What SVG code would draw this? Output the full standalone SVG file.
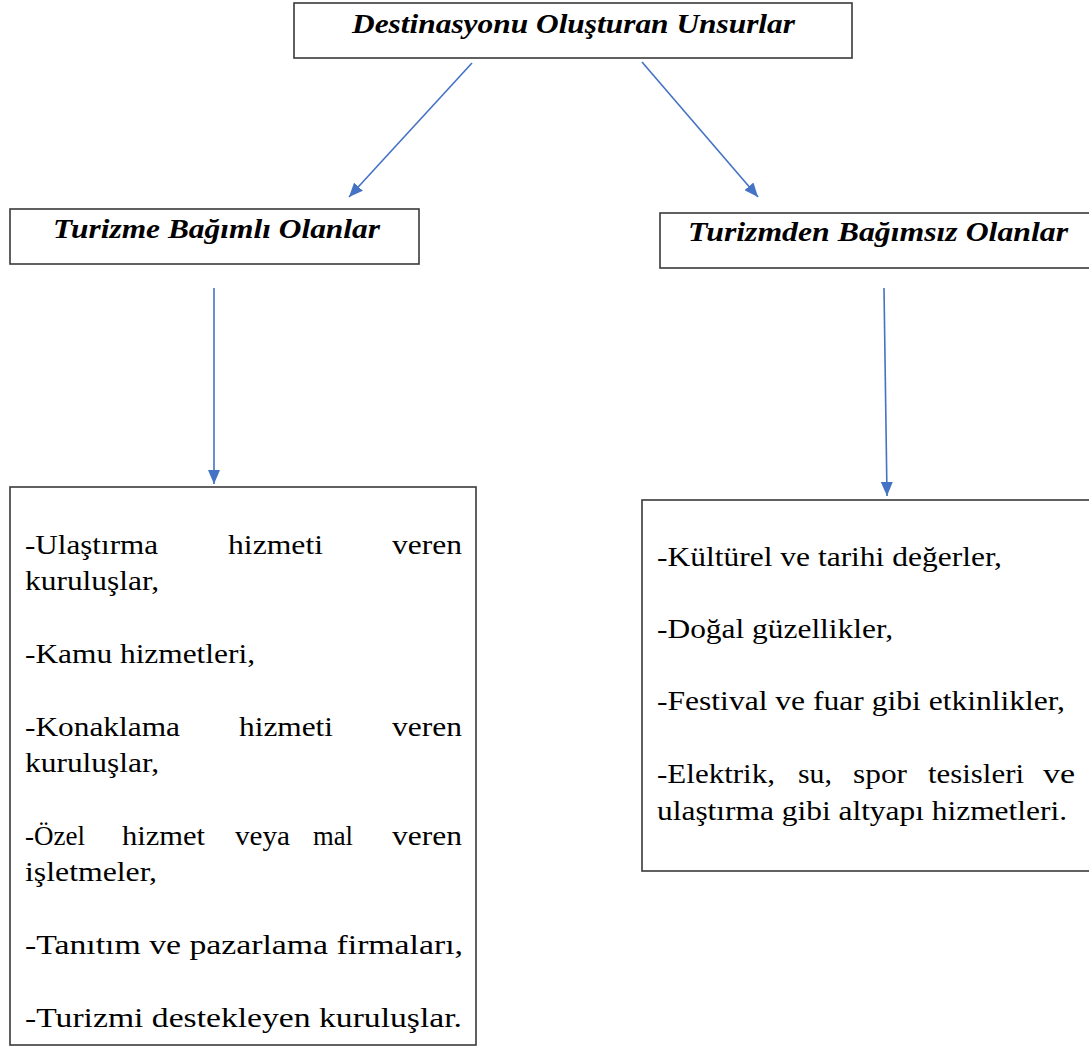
<svg xmlns="http://www.w3.org/2000/svg" width="1089" height="1048" viewBox="0 0 1089 1048">
<style>
.box{fill:#fff;stroke:#3a3a3a;stroke-width:1.6}
text{font-family:"Liberation Serif","Times New Roman",Times,"Nimbus Roman","Noto Serif","DejaVu Serif",FreeSerif,Tinos,serif;font-size:27px;fill:#000}
.h{font-weight:bold;font-style:italic}
.c{stroke:#4472C4;stroke-width:1.6;fill:none}
</style>
<defs>
<marker id="ah" viewBox="0 0 14 12" refX="14" refY="6" markerWidth="14" markerHeight="12" markerUnits="userSpaceOnUse" orient="auto">
<path d="M0,0 L14,6 L0,12 z" fill="#4472C4"/>
</marker>
</defs>
<rect width="1089" height="1048" fill="#fff"/>
<g id="connectors">
<line class="c" x1="472" y1="63" x2="349" y2="197" marker-end="url(#ah)"/>
<line class="c" x1="642" y1="62" x2="758" y2="197" marker-end="url(#ah)"/>
<line class="c" x1="214" y1="288" x2="214" y2="484" marker-end="url(#ah)"/>
<line class="c" x1="884" y1="288" x2="887" y2="496" marker-end="url(#ah)"/>
</g>
<g id="n-top">
<rect class="box" x="294" y="3" width="558" height="55"/>
<text class="h" x="352" y="33" textLength="443" lengthAdjust="spacingAndGlyphs">Destinasyonu Oluşturan Unsurlar</text>
</g>
<g id="n-left-head">
<rect class="box" x="10" y="209" width="409" height="55"/>
<text class="h" x="53" y="238" textLength="327" lengthAdjust="spacingAndGlyphs">Turizme Bağımlı Olanlar</text>
</g>
<g id="n-right-head">
<rect class="box" x="660" y="213" width="440" height="55"/>
<text class="h" x="688" y="241" textLength="380" lengthAdjust="spacingAndGlyphs">Turizmden Bağımsız Olanlar</text>
</g>
<g id="n-left-list">
<rect class="box" x="10" y="487" width="466" height="558"/>
<text x="25" y="554" textLength="133" lengthAdjust="spacingAndGlyphs">-Ulaştırma</text>
<text x="228" y="554" textLength="95" lengthAdjust="spacingAndGlyphs">hizmeti</text>
<text x="392" y="554" textLength="70" lengthAdjust="spacingAndGlyphs">veren</text>
<text x="25" y="590" textLength="134" lengthAdjust="spacingAndGlyphs">kuruluşlar,</text>
<text x="25" y="663" textLength="230" lengthAdjust="spacingAndGlyphs">-Kamu hizmetleri,</text>
<text x="25" y="736" textLength="155" lengthAdjust="spacingAndGlyphs">-Konaklama</text>
<text x="239" y="736" textLength="94" lengthAdjust="spacingAndGlyphs">hizmeti</text>
<text x="392" y="736" textLength="70" lengthAdjust="spacingAndGlyphs">veren</text>
<text x="25" y="772" textLength="134" lengthAdjust="spacingAndGlyphs">kuruluşlar,</text>
<text x="25" y="845" textLength="60" lengthAdjust="spacingAndGlyphs">-Özel</text>
<text x="122" y="845" textLength="83" lengthAdjust="spacingAndGlyphs">hizmet</text>
<text x="235" y="845" textLength="55" lengthAdjust="spacingAndGlyphs">veya</text>
<text x="313" y="845" textLength="40" lengthAdjust="spacingAndGlyphs">mal</text>
<text x="392" y="845" textLength="70" lengthAdjust="spacingAndGlyphs">veren</text>
<text x="25" y="881" textLength="132" lengthAdjust="spacingAndGlyphs">işletmeler,</text>
<text x="25" y="954" textLength="438" lengthAdjust="spacingAndGlyphs">-Tanıtım ve pazarlama firmaları,</text>
<text x="25" y="1027" textLength="437" lengthAdjust="spacingAndGlyphs">-Turizmi destekleyen kuruluşlar.</text>
</g>
<g id="n-right-list">
<rect class="box" x="642" y="500" width="460" height="371"/>
<text x="657" y="566" textLength="345" lengthAdjust="spacingAndGlyphs">-Kültürel ve tarihi değerler,</text>
<text x="657" y="638" textLength="236" lengthAdjust="spacingAndGlyphs">-Doğal güzellikler,</text>
<text x="657" y="710" textLength="408" lengthAdjust="spacingAndGlyphs">-Festival ve fuar gibi etkinlikler,</text>
<text x="657" y="783" textLength="118" lengthAdjust="spacingAndGlyphs">-Elektrik,</text>
<text x="798" y="783" textLength="34" lengthAdjust="spacingAndGlyphs">su,</text>
<text x="853" y="783" textLength="54" lengthAdjust="spacingAndGlyphs">spor</text>
<text x="928" y="783" textLength="96" lengthAdjust="spacingAndGlyphs">tesisleri</text>
<text x="1043" y="783" textLength="32" lengthAdjust="spacingAndGlyphs">ve</text>
<text x="657" y="820" textLength="410" lengthAdjust="spacingAndGlyphs">ulaştırma gibi altyapı hizmetleri.</text>
</g>
</svg>
